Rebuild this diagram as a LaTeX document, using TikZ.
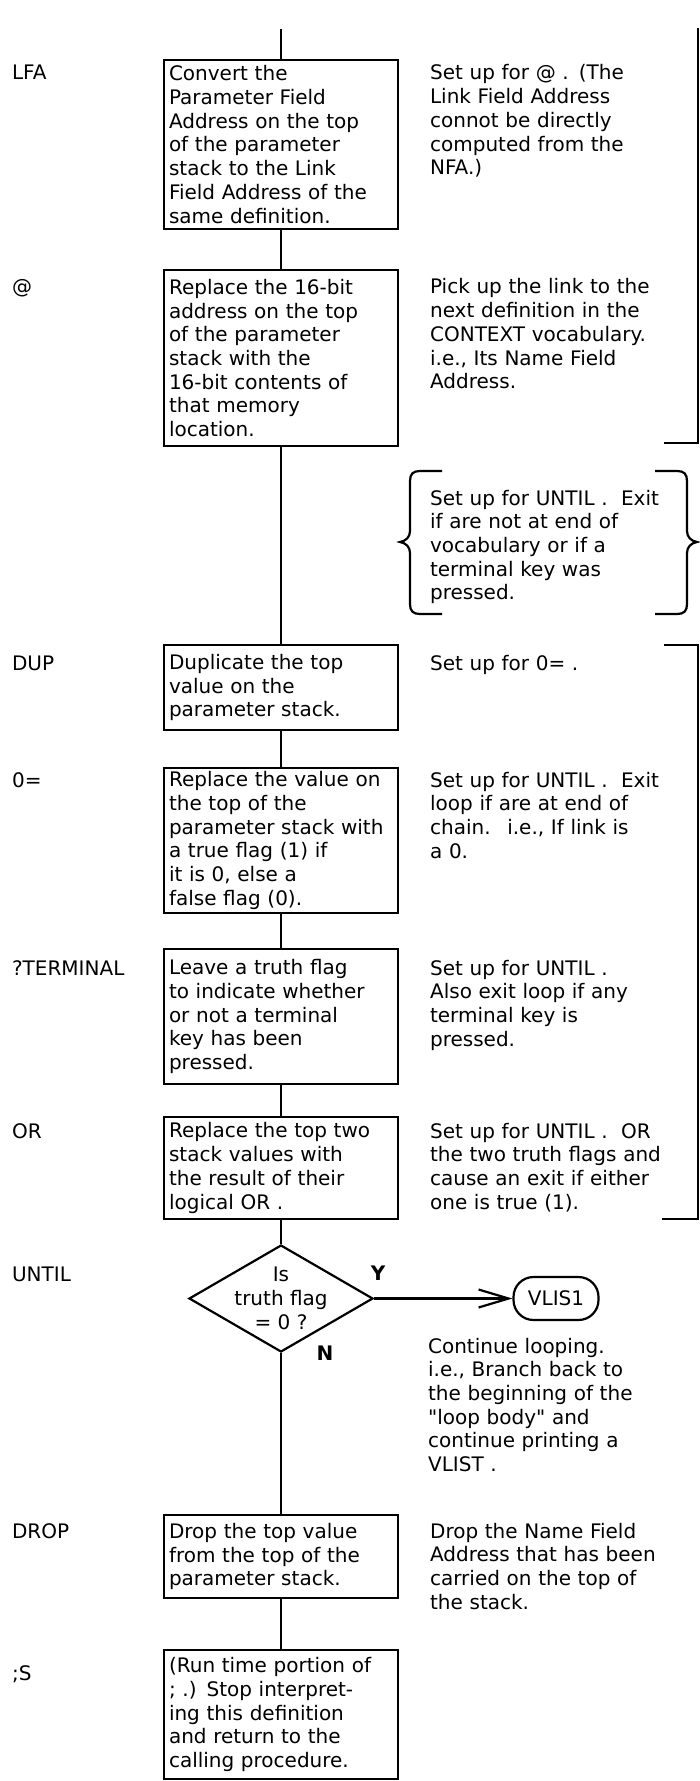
\documentclass[tikz,border=0pt]{standalone}
\usepackage{fontspec}
\setmainfont{DejaVu Sans}
\usepackage{tikz}
\usetikzlibrary{arrows.meta,shapes.geometric}

\begin{document}
\begin{tikzpicture}[
  x=0.5pt,y=-0.5pt,
  font=\fontsize{10}{11.85}\selectfont,
  line width=1.1pt,
  stepbox/.style={draw,inner xsep=2.5pt,inner ysep=0pt,text width=112pt,align=left},
  word/.style={anchor=base west,inner sep=0pt},
  note/.style={anchor=base west,inner sep=0pt,text width=130pt,align=left},
  decision/.style={draw,diamond,minimum width=92pt,minimum height=53.5pt,inner sep=-10pt,align=center},
  arr/.style={-{Straight Barb[length=15pt,width=9pt]}},
  yn/.style={font=\fontsize{10}{12}\selectfont\bfseries,inner sep=0pt}
]
  \useasboundingbox (0,0) rectangle (700,1781);
  \coordinate (entry) at (281,29);

  % words of the definition
  \node[word] (wlfa) at (11,80) {LFA};
  \node[word] (wfetch) at (11,294) {@};
  \node[word] (wdup) at (11,670) {DUP};
  \node[word] (wzeq) at (11,787) {0=};
  \node[word] (wterm) at (11,975) {?TERMINAL};
  \node[word] (wor) at (11,1138) {OR};
  \node[word] (wuntil) at (11,1281) {UNTIL};
  \node[word] (wdrop) at (11,1538) {DROP};
  \node[word] (wsemis) at (11,1680) {;S};

  % flow
  \node[stepbox,minimum height=84.5pt] (lfa) at (281,144.5)
    {Convert the\\Parameter Field\\Address on the top\\of the parameter\\stack to the Link\\Field Address of the\\same definition.};
  \node[stepbox,minimum height=88pt] (fetch) at (281,358)
    {Replace the 16-bit\\address on the top\\of the parameter\\stack with the\\16-bit contents of\\that memory\\location.};
  \node[stepbox,minimum height=42.5pt] (dup) at (281,687.5)
    {Duplicate the top\\value on the\\parameter stack.};
  \node[stepbox,minimum height=72.5pt] (zeq) at (281,840.5)
    {Replace the value on\\the top of the\\parameter stack with\\a true flag (1) if\\it is 0, else a\\false flag (0).};
  \node[stepbox,minimum height=67.5pt] (term) at (281,1016.5)
    {Leave a truth flag\\to indicate whether\\or not a terminal\\key has been\\pressed.};
  \node[stepbox,minimum height=51pt] (orbox) at (281,1168)
    {Replace the top two\\stack values with\\the result of their\\logical OR .};
  \node[decision] (until) at (281,1298.5) {Is\\truth flag\\= 0 ?};
  \node[draw,rounded corners=10pt,minimum width=42.5pt,minimum height=21.5pt,inner sep=2pt]
    (vlis) at (556,1298.5) {VLIS1};
  \node[stepbox,minimum height=41.5pt] (drop) at (281,1556.5)
    {Drop the top value\\from the top of the\\parameter stack.};
  \node[stepbox,minimum height=64.5pt] (semis) at (281,1714.5)
    {(Run time portion of\\; .) Stop interpret-\\ing this definition\\and return to the\\calling procedure.};

  \node[yn] (ylab) at (378,1273) {Y};
  \node[yn] (nlab) at (325,1353) {N};

  \draw (entry) -- (lfa);
  \draw (lfa) -- (fetch);
  \draw (fetch) -- (dup);
  \draw (dup) -- (zeq);
  \draw (zeq) -- (term);
  \draw (term) -- (orbox);
  \draw (orbox) -- (until);
  \draw (until) -- (drop);
  \draw (drop) -- (semis);
  \draw[arr] (until) -- (vlis);

  % comments
  \node[note] (nlfa) at (429,80)
    {Set up for @ . (The\\Link Field Address\\connot be directly\\computed from the\\NFA.)};
  \node[note] (nfetch) at (429,294)
    {Pick up the link to the\\next definition in the\\CONTEXT vocabulary.\\i.e., Its Name Field\\Address.};
  \node[note] (nbrace) at (429,505)
    {Set up for UNTIL .~ Exit\\if are not at end of\\vocabulary or if a\\terminal key was\\pressed.};
  \node[note] (ndup) at (429,670) {Set up for 0= .};
  \node[note] (nzeq) at (429,787)
    {Set up for UNTIL .~ Exit\\loop if are at end of\\chain.~ i.e., If link is\\a 0.};
  \node[note] (nterm) at (429,975)
    {Set up for UNTIL .\\Also exit loop if any\\terminal key is\\pressed.};
  \node[note] (nor) at (429,1138)
    {Set up for UNTIL .~ OR\\the two truth flags and\\cause an exit if either\\one is true (1).};
  \node[note] (nuntil) at (427,1353)
    {Continue looping.\\i.e., Branch back to\\the beginning of the\\\textquotedbl loop body\textquotedbl{} and\\continue printing a\\VLIST .};
  \node[note] (ndrop) at (429,1538)
    {Drop the Name Field\\Address that has been\\carried on the top of\\the stack.};

  % loop brackets
  \draw (698,28) -- (698,443) -- (664,443);
  \draw (664,645) -- (698,645) -- (698,1219) -- (662,1219);

  % brace
  \draw (442,471) -- (420,471) .. controls (413,471) and (410,474) .. (410,481) -- (410,531)
    .. controls (410,537) and (406,541) .. (400,542) .. controls (406,543) and (410,547) .. (410,553)
    -- (410,604) .. controls (410,611) and (413,614) .. (420,614) -- (442,614);
  \draw (655,471) -- (677,471) .. controls (684,471) and (687,474) .. (687,481) -- (687,531)
    .. controls (687,537) and (691,541) .. (697,542) .. controls (691,543) and (687,547) .. (687,553)
    -- (687,604) .. controls (687,611) and (684,614) .. (677,614) -- (655,614);
\end{tikzpicture}
\end{document}
